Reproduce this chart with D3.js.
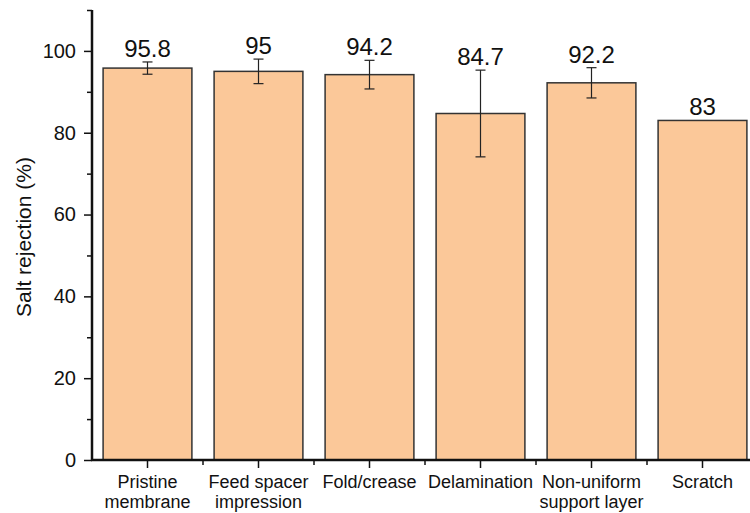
<!DOCTYPE html>
<html>
<head>
<meta charset="utf-8">
<script src="https://cdn.jsdelivr.net/npm/d3@7"></script>
<style>
  body { margin: 0; background: #fff; }
  text { font-family: 'Liberation Sans', Arial, sans-serif; fill: #111; }
</style>
</head>
<body>
<div id="chart"></div>
<script>
const width = 750;
const height = 513;
const marginLeft = 92;
const marginTop = 10;
const plotBottom = 460;

const barColor = '#fbc899';
const barStroke = '#333';

// data
const categories = [
  ['Pristine', 'membrane'],
  ['Feed spacer', 'impression'],
  ['Fold/crease'],
  ['Delamination'],
  ['Non-uniform', 'support layer'],
  ['Scratch'],
];
const values = [95.8, 95, 94.2, 84.7, 92.2, 83];
const errors = [1.5, 3, 3.5, 10.6, 3.7, 0];
const valueLabels = ['95.8', '95', '94.2', '84.7', '92.2', '83'];
const yTicks = [0, 20, 40, 60, 80, 100];
const yMinorTicks = [10, 30, 50, 70, 90, 110];

const keys = categories.map((c) => c.join(' '));
const data = keys.map((k, i) => ({
  key: k,
  lines: categories[i],
  value: values[i],
  err: errors[i],
  label: valueLabels[i],
}));

const svg = d3
  .select('#chart')
  .append('svg')
  .attr('width', width)
  .attr('height', height);

const xScale = d3
  .scaleBand()
  .domain(keys)
  .range([marginLeft, marginLeft + 666])
  .paddingInner(0.2)
  .paddingOuter(0.1);

const yScale = d3.scaleLinear().domain([0, 110]).range([plotBottom, marginTop]);

// bars
svg
  .append('g')
  .selectAll('rect')
  .data(data)
  .enter()
  .append('rect')
  .attr('x', (d) => xScale(d.key))
  .attr('y', (d) => yScale(d.value))
  .attr('width', xScale.bandwidth())
  .attr('height', (d) => yScale(0) - yScale(d.value))
  .attr('fill', barColor)
  .attr('stroke', barStroke)
  .attr('stroke-width', 1.5);

// error bars
const eb = svg
  .append('g')
  .attr('stroke', '#222')
  .attr('stroke-width', 1.2)
  .selectAll('g')
  .data(data.filter((d) => d.err > 0))
  .enter()
  .append('g');

const cx = (d) => xScale(d.key) + xScale.bandwidth() / 2;
eb.append('line')
  .attr('x1', cx)
  .attr('x2', cx)
  .attr('y1', (d) => yScale(d.value + d.err))
  .attr('y2', (d) => yScale(d.value - d.err));
eb.append('line')
  .attr('x1', (d) => cx(d) - 5)
  .attr('x2', (d) => cx(d) + 5)
  .attr('y1', (d) => yScale(d.value + d.err))
  .attr('y2', (d) => yScale(d.value + d.err));
eb.append('line')
  .attr('x1', (d) => cx(d) - 5)
  .attr('x2', (d) => cx(d) + 5)
  .attr('y1', (d) => yScale(d.value - d.err))
  .attr('y2', (d) => yScale(d.value - d.err));

// value labels
svg
  .append('g')
  .selectAll('text')
  .data(data)
  .enter()
  .append('text')
  .attr('x', cx)
  .attr('y', (d) => yScale(d.value + d.err) - 5)
  .attr('text-anchor', 'middle')
  .style('font-size', '24px')
  .text((d) => d.label);

// y axis
const yAxis = svg
  .append('g')
  .attr('transform', `translate(${marginLeft},0)`)
  .call(d3.axisLeft(yScale).tickValues(yTicks).tickSize(8).tickPadding(8));
yAxis.select('.domain').remove();
yAxis.selectAll('.tick line').attr('stroke', '#111').attr('stroke-width', 1.5);
yAxis.selectAll('.tick text').style('font-size', '20px').style('fill', '#111');

svg
  .append('g')
  .attr('transform', `translate(${marginLeft},0)`)
  .call(d3.axisLeft(yScale).tickValues(yMinorTicks).tickSize(5).tickFormat(''))
  .call((g) => g.select('.domain').remove())
  .selectAll('.tick line')
  .attr('stroke', '#111')
  .attr('stroke-width', 1.5);

// x axis
const xAxis = svg
  .append('g')
  .attr('transform', `translate(0,${plotBottom})`)
  .call(d3.axisBottom(xScale).tickSize(8).tickFormat(''));
xAxis.select('.domain').remove();
xAxis.selectAll('.tick line').attr('stroke', '#111').attr('stroke-width', 1.5);

// minor x ticks at the band boundaries
const step = xScale.step();
const boundaries = d3.range(1, keys.length).map((i) => marginLeft + i * step);
svg
  .append('g')
  .selectAll('line')
  .data(boundaries)
  .enter()
  .append('line')
  .attr('x1', (d) => d)
  .attr('x2', (d) => d)
  .attr('y1', plotBottom)
  .attr('y2', plotBottom + 5)
  .attr('stroke', '#111')
  .attr('stroke-width', 1.5);

// x tick labels (one or two lines)
const xl = svg
  .append('g')
  .selectAll('text')
  .data(data)
  .enter()
  .append('text')
  .attr('text-anchor', 'middle')
  .style('font-size', '18px');
xl.selectAll('tspan')
  .data((d) => d.lines.map((l) => ({ l, x: cx(d) })))
  .enter()
  .append('tspan')
  .attr('x', (d) => d.x)
  .attr('y', (d, i) => 488 + i * 20)
  .text((d) => d.l);

// axis lines
svg
  .append('line')
  .attr('x1', marginLeft)
  .attr('x2', marginLeft)
  .attr('y1', yScale(110))
  .attr('y2', plotBottom + 1)
  .attr('stroke', '#111')
  .attr('stroke-width', 2.5);
svg
  .append('line')
  .attr('x1', marginLeft - 1)
  .attr('x2', width)
  .attr('y1', plotBottom)
  .attr('y2', plotBottom)
  .attr('stroke', '#111')
  .attr('stroke-width', 2.5);

// y axis title
svg
  .append('text')
  .attr('transform', `translate(31,237) rotate(-90)`)
  .attr('text-anchor', 'middle')
  .style('font-size', '21px')
  .text('Salt rejection (%)');
</script>
</body>
</html>
